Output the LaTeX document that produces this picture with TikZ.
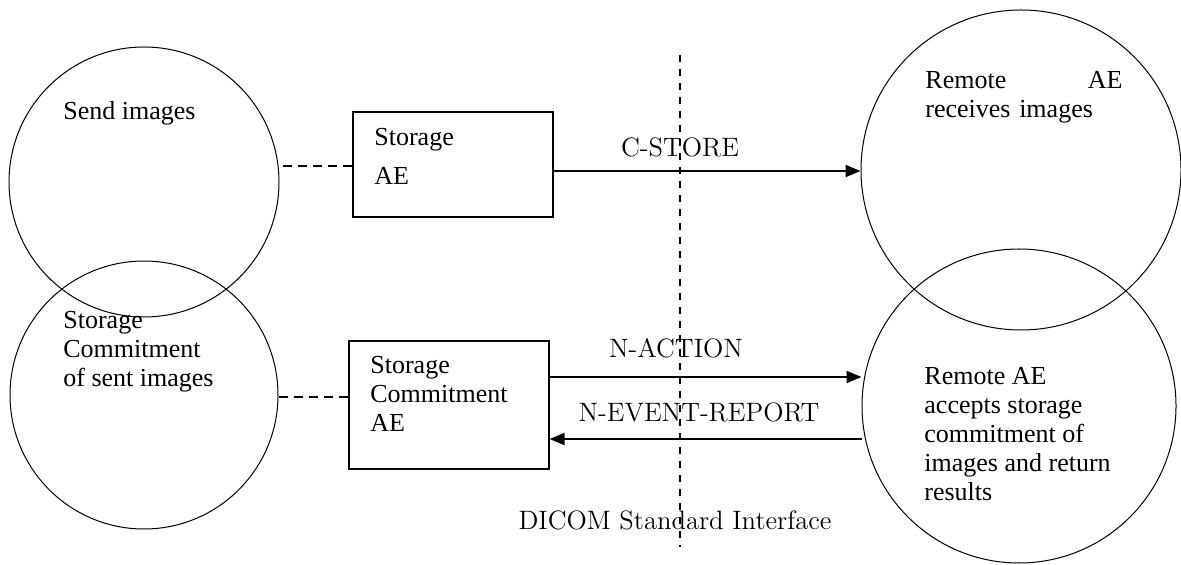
\documentclass[tikz,border=0pt]{standalone}
\usepackage{fontspec}
\setmainfont{Liberation Serif}
\newfontfamily\lmfont{Latin Modern Roman}
\usetikzlibrary{arrows.meta}

\begin{document}
\begin{tikzpicture}[x=0.5pt,y=-0.5pt,
  font=\fontsize{13pt}{14.5pt}\selectfont,
  ring/.style={draw, circle, line width=0.5pt, inner sep=0pt},
  aebox/.style={draw, rectangle, line width=0.6pt, inner sep=0pt, minimum width=100pt},
  txt/.style={anchor=north west, inner sep=0pt, align=left},
  lbl/.style={inner sep=0pt, font=\lmfont\fontsize{13.3pt}{15pt}\selectfont},
  link/.style={dash pattern=on 4.5pt off 3pt, line width=0.6pt},
  ifline/.style={dash pattern=on 3.5pt off 3.5pt, line width=0.7pt},
  msg/.style={line width=1pt, -{Triangle[length=7.5pt,width=6pt]}}
]
\useasboundingbox (0,0) rectangle (1181,565);

% circles
\node[ring, minimum size=135pt] (sendc) at (144,182) {};
\node[ring, minimum size=134pt] (commc) at (144,395) {};
\node[ring, minimum size=160pt] (rcvc) at (1021,170) {};
\node[ring, minimum size=157pt] (accc) at (1019,406) {};

\node[txt] (sendt) at (63,101) {Send images};
\node[txt] (commt) at (63,311) {Storage\\Commitment\\of sent images};
\node[txt, text width=98.5pt] (rcvt) at (925,71) {Remote\hfill AE\\receives images};
\node[txt] (acct) at (924,367) {Remote AE\\accepts storage\\commitment of\\images and return\\results};

% AE boxes
\node[aebox, minimum height=52.5pt] (stbox) at (453,164.5) {};
\node[aebox, minimum height=64pt] (scbox) at (449,405) {};
\node[txt] (stt) at (374,128) {Storage\\[5pt]AE};
\node[txt] (sct) at (370,356) {Storage\\Commitment\\AE};

% interface
\coordinate (iftop) at (680,55);
\coordinate (ifbot) at (680,547);
\draw[ifline] (iftop) -- (ifbot);
\node[lbl] (ift) at (675,520) {DICOM Standard Interface};

% links
\draw[link] ([yshift=-0.75pt]stbox.west) -- ([yshift=-0.75pt]stbox.west -| sendc.east);
\draw[link] ([yshift=4pt]scbox.west) -- ([yshift=4pt]scbox.west -| commc.east);

\draw[msg] ([yshift=-3.25pt]stbox.east) -- ([yshift=-3.25pt]stbox.east -| rcvc.west);
\draw[msg] ([yshift=14pt]scbox.east) -- ([yshift=14pt]scbox.east -| accc.west);
\draw[msg] ([yshift=-17pt]scbox.east -| accc.west) -- ([yshift=-17pt]scbox.east);

\node[lbl] (cst) at (680,147) {C-STORE};
\node[lbl] (nat) at (676,348) {N-ACTION};
\node[lbl] (nert) at (699,412) {N-EVENT-REPORT};
\end{tikzpicture}
\end{document}
